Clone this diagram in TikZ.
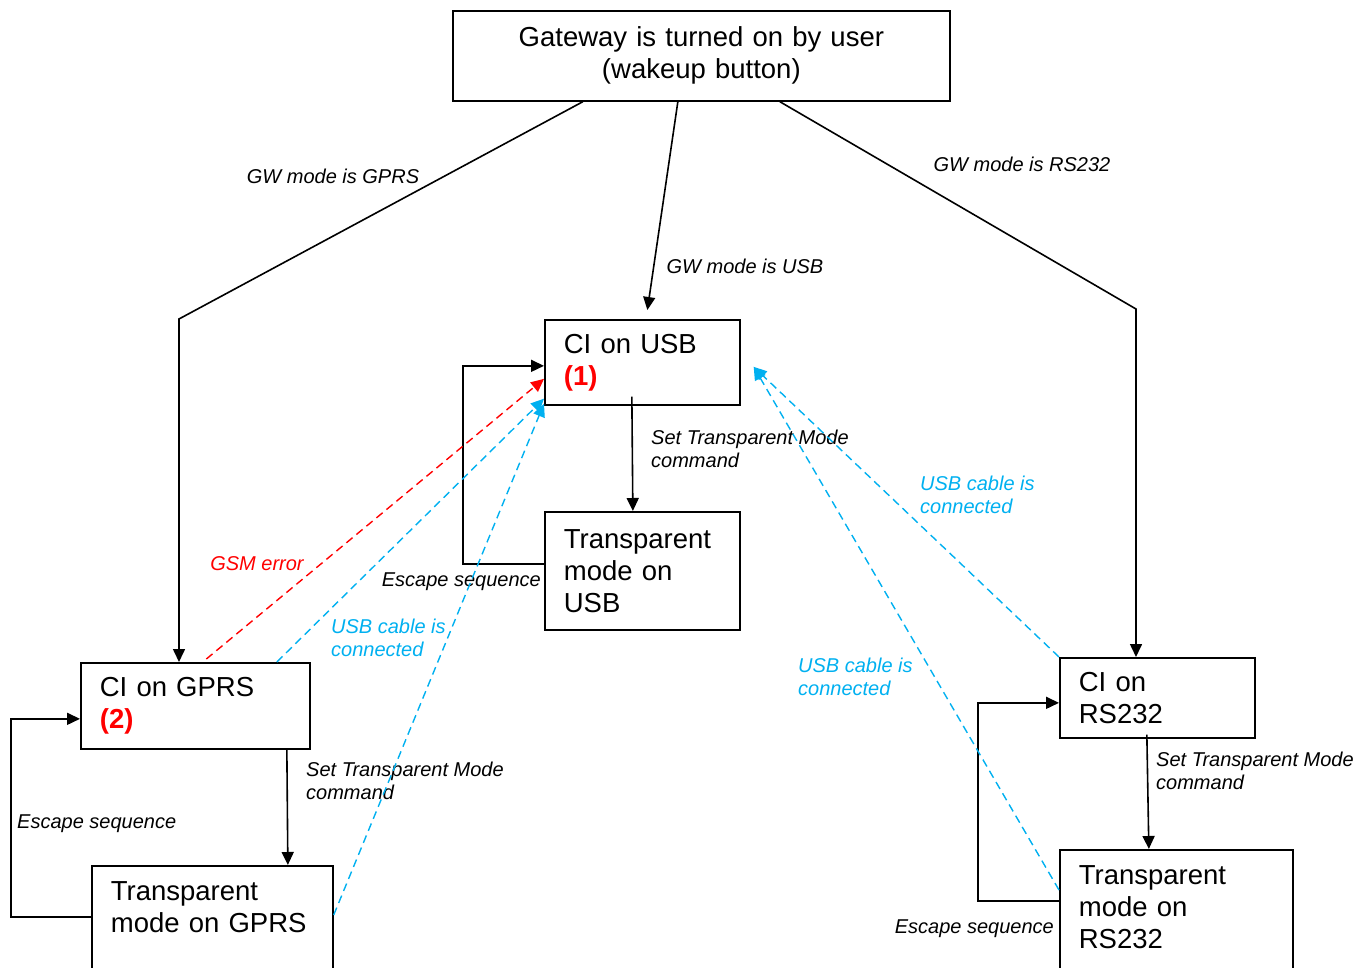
\documentclass[tikz,border=0pt]{standalone}
\usepackage{fontspec}
\setmainfont{Liberation Sans}
\usetikzlibrary{arrows.meta}
\definecolor{cableblue}{RGB}{0,176,240}

\begin{document}
\begin{tikzpicture}[x = 1pt, y = -1pt,
  box/.style = {draw, line width = 1.7pt, anchor = north west, align = left, inner xsep = 19pt, inner ysep = 0pt, font = \fontsize{27.5}{32}\selectfont},
  lbl/.style = {inner sep = 0pt, align = left, font = \fontsize{20}{23}\selectfont\itshape},
  flow/.style = {line width = 1.6pt, -{Triangle[length = 13pt, width = 12pt]}},
  cable/.style = {line width = 1.4pt, dash pattern = on 8pt off 5pt, -{Triangle[length = 13pt, width = 12pt]}}]
\clip (0,0) rectangle (1369,968);

%% boxes
\node[box, align = center, text width = 459pt, minimum height = 90pt] (top) at (452,10) {Gateway is turned on by user\\(wakeup button)};
\node[box, text width = 157pt, minimum height = 85pt, yshift = -2pt] (usb) at (544,317) {CI on USB\\{\color{red}\bfseries (1)}};
\node[box, text width = 157pt, minimum height = 118pt] (tusb) at (544,511) {Transparent\\mode on\\USB};
\node[box, text width = 191pt, minimum height = 86pt] (gprs) at (80,662) {CI on GPRS\\{\color{red}\bfseries (2)}};
\node[box, text width = 203pt, inner ysep = 16pt, text depth = 110pt] (tgprs) at (91,865) {Transparent\\mode on GPRS};
\node[box, text width = 157pt, minimum height = 80pt] (rs) at (1059,657) {CI on\\RS232};
\node[box, text width = 195pt, inner ysep = 16pt, text depth = 110pt] (trs) at (1059,849) {Transparent\\mode on\\RS232};

%% labels
\node[lbl] (lgprs) at (333,176) {GW mode is GPRS};
\node[lbl] (lusb) at (745,266) {GW mode is USB};
\node[lbl] (lrs) at (1022,164) {GW mode is RS232};
\node[lbl, anchor = west] (lcmdusb) at (651,449) {Set Transparent Mode\\command};
\node[lbl, anchor = east] (lescusb) at (541,582) {Escape sequence};
\node[lbl, text = red] (lgsm) at (257,564) {GSM error};
\node[lbl, text = cableblue, anchor = west] (lcablegprs) at (331,638) {USB cable is\\connected};
\node[lbl, text = cableblue, anchor = west] (lcablers) at (920,495) {USB cable is\\connected};
\node[lbl, text = cableblue, anchor = west] (lcabletrs) at (798,677) {USB cable is\\connected};
\node[lbl, anchor = west] (lcmdgprs) at (306,781) {Set Transparent Mode\\command};
\node[lbl, anchor = west] (lescgprs) at (17,824) {Escape sequence};
\node[lbl, anchor = west] (lcmdrs) at (1156,771) {Set Transparent Mode\\command};
\node[lbl, anchor = east] (lescrs) at (1054,929) {Escape sequence};

%% GW mode
\coordinate (gbend) at (179,319);
\coordinate (rbend) at (1136,309);
\draw[flow] ([xshift = -118.5pt]top.south) -- (gbend) -- (gbend |- gprs.north);
\draw[flow] ([xshift = -23.5pt]top.south) -- ([xshift = 5pt, yshift = 9pt]usb.north);
\draw[flow] ([xshift = 78.5pt]top.south) -- (rbend) -- (rbend |- rs.north);

%% transparent mode and escape
\draw[flow] ([xshift = -10.5pt, yshift = 9pt]usb.south) -- ([xshift = -9.5pt]tusb.north);
\draw[flow] ([yshift = 7pt]tusb.west) -- ++(-81,0) |- ([yshift = -3.5pt]usb.west);
\draw[flow] ([xshift = 91.5pt]gprs.south) -- ([xshift = 75.5pt]tgprs.north);
\draw[flow] ([yshift = -52pt]tgprs.north west) -- ++(-80,0) |- ([yshift = -13pt]gprs.west);
\draw[flow] ([xshift = -10.5pt, yshift = 4pt]rs.south) -- ([xshift = -27.5pt]trs.north);
\draw[flow] ([yshift = -52pt]trs.north west) -- ++(-81,0) |- ([yshift = -5pt]rs.west);

%% back to USB
\draw[cable, red] ([xshift = 11pt, yshift = 3pt]gprs.north) -- ([yshift = -16.5pt]usb.west);
\draw[cable, cableblue] ([xshift = 81.5pt]gprs.north) -- ([yshift = 7pt]usb.south west);
\draw[cable, cableblue] ([yshift = -50pt]tgprs.north east) -- ([yshift = 2pt]usb.south west);
\draw[cable, cableblue] (rs.north west) -- ([xshift = 13pt, yshift = -4.5pt]usb.east);
\draw[cable, cableblue] ([yshift = -41pt]trs.north west) -- ([xshift = 13pt, yshift = -4.5pt]usb.east);

\end{tikzpicture}
\end{document}
